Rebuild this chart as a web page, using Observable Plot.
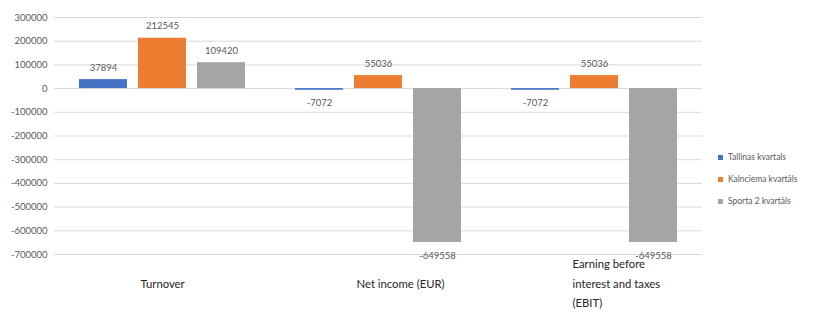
<!DOCTYPE html>
<html><head><meta charset="utf-8">
<script src="https://cdn.jsdelivr.net/npm/d3@7"></script>
<script src="https://cdn.jsdelivr.net/npm/@observablehq/plot@0.6"></script>
<style>
body{margin:0;background:#fff;}
#wrap{position:relative;width:815px;height:323px;font-family:Lato,"Open Sans",sans-serif;}
#legend{position:absolute;left:718px;top:146px;font-size:8.5px;color:#595959;}
.item{display:flex;align-items:center;height:22px;white-space:nowrap;}
.sw{width:5px;height:5px;margin-right:5px;}
</style></head><body><div id="wrap"></div>
<script>
const categories = ["Turnover", "Net income (EUR)", "EBIT"];
const categoryLabels = ["Turnover", "Net income (EUR)", "Earning before\ninterest and taxes\n(EBIT)"];
const series = ["Tallinas kvartals", "Kalnciema kvartāls", "Sporta 2 kvartāls"];
const colors = ["#4472C4", "#ED7D31", "#A5A5A5"];
const tallinas = [37894, -7072, -7072];
const kalnciema = [212545, 55036, 55036];
const sporta = [109420, -649558, -649558];
const yTicks = [300000, 200000, 100000, 0, -100000, -200000, -300000, -400000, -500000, -600000, -700000];

const valuesBySeries = [tallinas, kalnciema, sporta];
const data = [];
categories.forEach((c, i) => {
  series.forEach((s, j) => data.push({cat: c, series: s, value: valuesBySeries[j][i]}));
});
const catRows = categories.map((c, i) => ({cat: c, label: categoryLabels[i]}));

const chart = Plot.plot({
  width: 815, height: 323,
  marginLeft: 53, marginRight: 112, marginTop: 17, marginBottom: 69,
  style: {fontFamily: "Lato, 'Open Sans', sans-serif", fontSize: "9.5px", color: "#595959", background: "#fff"},
  fx: {domain: categories, padding: 0, axis: null},
  x: {domain: series, paddingInner: 0.193, paddingOuter: 0.417, axis: null},
  y: {domain: [-700000, 300000], label: null, axis: null},
  color: {domain: series, range: colors},
  marks: [
    Plot.gridY(yTicks, {stroke: "#d9d9d9", strokeOpacity: 1}),
    Plot.axisY(yTicks, {tickSize: 0, tickPadding: 7, tickFormat: d => String(d), label: null, fill: "#595959"}),
    Plot.barY(data, {fx: "cat", x: "series", y: "value", fill: "series"}),
    Plot.text(data.filter(d => d.value >= 0), {fx: "cat", x: "series", y: "value", text: d => String(d.value), dy: -12, lineAnchor: "middle", fill: "#595959", fontSize: 9.5}),
    Plot.text(data.filter(d => d.value < 0), {fx: "cat", x: "series", y: "value", text: d => String(d.value), dy: 13, lineAnchor: "middle", fill: "#595959", fontSize: 9.5}),
    Plot.text(catRows, {fx: "cat", text: "label", frameAnchor: "bottom", dy: 27, dx: -22, lineAnchor: "middle", textAnchor: "start", fontSize: 11.3, lineHeight: 1.72, fill: "#262626"})
  ]
});

const wrap = document.getElementById("wrap");
wrap.appendChild(chart);
const legend = document.createElement("div");
legend.id = "legend";
series.forEach((s, i) => {
  const it = document.createElement("div");
  it.className = "item";
  const sw = document.createElement("span");
  sw.className = "sw";
  sw.style.background = colors[i];
  const t = document.createElement("span");
  t.textContent = s;
  it.appendChild(sw); it.appendChild(t);
  legend.appendChild(it);
});
wrap.appendChild(legend);
</script></body></html>
